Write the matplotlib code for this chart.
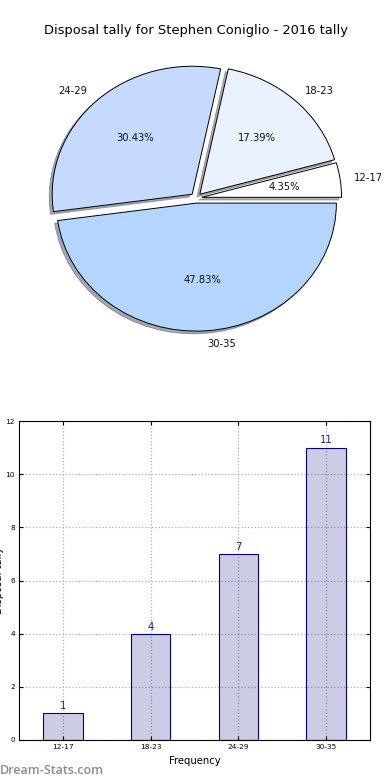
"""Disposal tally pie + bar chart for one player.
"""
import matplotlib
matplotlib.use("Agg")
import matplotlib.pyplot as plt

plt.rcParams["font.family"] = "DejaVu Sans"
plt.rcParams["axes.linewidth"] = 0.8

# Data.
title = "Disposal tally for Stephen Coniglio - 2016 tally"
categories = ["12-17", "18-23", "24-29", "30-35"]
counts = [1, 4, 7, 11]
pie_colors = ["#FFFFFF", "#EAF1FF", "#C6D9FF", "#B4D5FF"]
explode = [0.04, 0.04, 0.04, 0.04]

fig = plt.figure(figsize=(3.9, 7.8), dpi=100)

# Pie (slightly squashed, like the original which had no equal aspect).
ax1 = fig.add_axes([21 / 390, 1 - 358 / 780, 350 / 390, 320 / 780])
ax1.pie(counts, labels=categories, colors=pie_colors, explode=explode,
    autopct="%.2f%%", startangle=0, counterclock=True,
    shadow=dict(ox=-0.015, oy=-0.015, shade=0.6),
    wedgeprops=dict(edgecolor="black", linewidth=0.7),
    textprops=dict(fontsize=7.2, color="#111111"))
ax1.set_aspect("auto")
ax1.set_xlim(-1.25, 1.25)
ax1.set_ylim(-1.25, 1.25)
ax1.set_title(title, fontsize=9.35, pad=3)

# Bars.
ax2 = fig.add_axes([19 / 390, 40 / 780, 351 / 390, 319 / 780])
x = range(len(categories))
bars = ax2.bar(x, counts, width=0.45, facecolor=(0, 0, 0.5, 0.2),
    edgecolor="navy", linewidth=0.8, zorder=2)
for xi, c in zip(x, counts):
    ax2.text(xi, c + 0.08, str(c), ha="center", va="bottom",
        fontsize=7.2, color="#1c1ca8")
ax2.set_xlim(-0.5, 3.5)
ax2.set_ylim(0, 12)
ax2.set_yticks(range(0, 13, 2))
ax2.set_xticks(list(x))
ax2.set_xticklabels(categories)
ax2.tick_params(labelsize=5.3, direction="in", length=3, top=True,
    right=True, pad=3)
ax2.set_axisbelow(True)
ax2.grid(True, linestyle=":", color="#b0b0b0", linewidth=0.9, zorder=0)
ax2.set_xlabel("Frequency", fontsize=7.2, labelpad=4)
ax2.set_ylabel("Disposal tally", fontsize=7.2)
ax2.yaxis.set_label_coords(-0.044, 0.5)

fig.text(0.0, 1 - 770 / 780, "Dream-Stats.com", fontsize=9.0, color="#8c8c8c",
    ha="left", va="center", family=["Open Sans", "DejaVu Sans"],
    fontweight="semibold")

fig.savefig("out.png", dpi=100)
